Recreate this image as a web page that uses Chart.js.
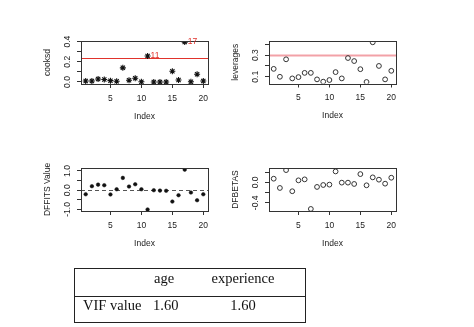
<!DOCTYPE html>
<html>
<head>
<meta charset="utf-8">
<script src="https://cdn.jsdelivr.net/npm/chart.js@4.4.1/dist/chart.umd.min.js"></script>
<style>
html, body { margin: 0; padding: 0; background: #fff; }
#wrap { position: relative; width: 474px; height: 327px; overflow: hidden; }
#wrap canvas { position: absolute; left: 0; top: 0; }
#vif { position: absolute; left: 74px; top: 268px; width: 232px; height: 55px;
       box-sizing: border-box; border: 1px solid #222;
       font-family: "Liberation Serif", serif; font-size: 14.5px; line-height: 1; color: #111; }
#vif .rule { position: absolute; left: 0; right: 0; top: 27px; border-top: 1px solid #222; }
#vif span { position: absolute; white-space: nowrap; }
</style>
</head>
<body>
<div id="wrap">
  <canvas id="cooks" width="474" height="327"></canvas>
  <canvas id="lev" width="474" height="327"></canvas>
  <canvas id="dffits" width="474" height="327"></canvas>
  <canvas id="dfbetas" width="474" height="327"></canvas>
  <div id="vif"><div class="rule"></div></div>
</div>
<script>
const index = [1, 2, 3, 4, 5, 6, 7, 8, 9, 10, 11, 12, 13, 14, 15, 16, 17, 18, 19, 20];
const cooksd = [0.010, 0.010, 0.030, 0.024, 0.013, 0.007, 0.140, 0.017, 0.037, 0.002,
                0.257, 0.000, 0.000, 0.000, 0.107, 0.020, 0.395, 0.002, 0.077, 0.010];
const leverages = [0.173, 0.100, 0.261, 0.085, 0.097, 0.136, 0.136, 0.076, 0.055, 0.070,
                   0.143, 0.085, 0.273, 0.245, 0.170, 0.052, 0.418, 0.200, 0.076, 0.155];
const dffitsVals = [-0.21, 0.21, 0.29, 0.26, -0.22, 0.05, 0.64, 0.19, 0.31, 0.05,
                    -1.00, 0.00, -0.02, -0.03, -0.59, -0.26, 1.07, -0.12, -0.52, -0.21];
const dfbetasVals = [0.071, -0.110, 0.239, -0.174, 0.039, 0.058, -0.520, -0.090, -0.052, -0.045,
                     0.213, -0.006, -0.006, -0.032, 0.161, -0.058, 0.097, 0.052, -0.026, 0.090];

const cooksCut = 0.235;
const leverageCut = 0.3;
const flagged = [11, 17];

const xTicks = [5, 10, 15, 20];
const cooksTicks = [0, 0.1, 0.2, 0.3, 0.4];
const cooksTickLabels = ['0.0', '', '0.2', '', '0.4'];
const levTicks = [0.1, 0.2, 0.3, 0.4];
const levTickLabels = ['0.1', '', '0.3', ''];
const dffitsTicks = [-1, -0.5, 0, 0.5, 1];
const dffitsTickLabels = ['-1.0', '', '0.0', '', '1.0'];
const dfbetasTicks = [-0.4, -0.2, 0, 0.2];
const dfbetasTickLabels = ['-0.4', '', '0.0', ''];

// VIF table
const vifHeader = ['age', 'experience'];
const vifRowName = 'VIF value';
const vifValues = ['1.60', '1.60'];

const FONT = '"Liberation Sans", Arial, sans-serif';
const FS = 8.5;
const Y_W = 40, X_H = 37.6;

const rplot = {
  id: 'rplot',
  beforeDatasetsDraw(chart, args, o) {
    const {ctx, chartArea: a} = chart;
    const y = chart.scales.y;
    if (o.hline != null) {
      ctx.save();
      ctx.beginPath();
      ctx.rect(a.left, a.top, a.right - a.left, a.bottom - a.top);
      ctx.clip();
      ctx.strokeStyle = o.hlineColor;
      ctx.lineWidth = o.hlineWidth;
      ctx.setLineDash(o.dash || []);
      const py = Math.round(y.getPixelForValue(o.hline)) + 0.5;
      ctx.beginPath();
      ctx.moveTo(a.left, py);
      ctx.lineTo(a.right, py);
      ctx.stroke();
      ctx.restore();
    }
  },
  afterDraw(chart, args, o) {
    const {ctx, chartArea: a} = chart;
    const x = chart.scales.x, y = chart.scales.y;
    ctx.save();
    ctx.strokeStyle = '#333';
    ctx.lineWidth = 1;
    ctx.strokeRect(Math.round(a.left) + 0.5, Math.round(a.top) + 0.5,
                   Math.round(a.right - a.left), Math.round(a.bottom - a.top));
    ctx.fillStyle = '#222';
    ctx.font = FS + 'px ' + FONT;
    ctx.textAlign = 'center';
    ctx.textBaseline = 'middle';
    o.ticks.forEach((v, i) => {
      const lab = o.labels[i];
      if (!lab) return;
      ctx.save();
      ctx.translate(a.left - 13, y.getPixelForValue(v));
      ctx.rotate(-Math.PI / 2);
      ctx.fillText(lab, 0, 0);
      ctx.restore();
    });
    if (o.pointLabels) {
      ctx.fillStyle = '#e0332c';
      ctx.font = '8.5px ' + FONT;
      ctx.textAlign = 'left';
      o.pointLabels.forEach(i => {
        ctx.fillText(String(i), x.getPixelForValue(i) + 3, y.getPixelForValue(o.values[i - 1]));
      });
    }
    ctx.restore();
  }
};

function panel(id, area, values, yMin, yMax, ticks, labels, title, ds, extra) {
  new Chart(document.getElementById(id), {
    type: 'scatter',
    data: {
      datasets: [Object.assign({
        data: index.map((v, i) => ({x: v, y: values[i]}))
      }, ds)]
    },
    options: {
      responsive: false,
      animation: false,
      events: [],
      layout: {
        padding: {left: area.l - Y_W, top: area.t, right: 474 - area.r, bottom: 327 - area.b - X_H}
      },
      plugins: {
        legend: {display: false},
        tooltip: {enabled: false},
        rplot: Object.assign({ticks: ticks, labels: labels, values: values}, extra)
      },
      scales: {
        x: {
          type: 'linear', min: 0.24, max: 20.76,
          afterBuildTicks: s => { s.ticks = xTicks.map(v => ({value: v})); },
          afterFit: s => { s.height = X_H; },
          border: {display: false},
          grid: {drawOnChartArea: false, drawTicks: true, tickLength: 4, color: '#333', lineWidth: 1},
          ticks: {padding: 5.2, color: '#222', font: {family: FONT, size: FS}, maxRotation: 0, autoSkip: false},
          title: {display: true, text: 'Index', color: '#222', font: {family: FONT, size: FS},
                  padding: {top: 0, bottom: 0.3}}
        },
        y: {
          type: 'linear', min: yMin, max: yMax,
          afterBuildTicks: s => { s.ticks = ticks.map(v => ({value: v})); },
          afterFit: s => { s.width = Y_W; },
          border: {display: false},
          grid: {drawOnChartArea: false, drawTicks: true, tickLength: 4, color: '#333', lineWidth: 1},
          ticks: {display: false},
          title: {display: true, text: title, color: '#222', font: {family: FONT, size: FS},
                  padding: {top: 1.6, bottom: 0}}
        }
      }
    },
    plugins: [rplot]
  });
}

const star = {pointStyle: 'star', pointRadius: 3, borderColor: '#111', borderWidth: 1.1, backgroundColor: '#111'};
const openCircle = {pointStyle: 'circle', pointRadius: 2.4, borderColor: '#333', borderWidth: 1, backgroundColor: 'rgba(0,0,0,0)'};
const dot = {pointStyle: 'circle', pointRadius: 1.8, borderColor: '#111', borderWidth: 0.5, backgroundColor: '#111'};

panel('cooks', {l: 81, r: 208, t: 41, b: 84}, cooksd, -0.02, 0.406,
      cooksTicks, cooksTickLabels, 'cooksd', star,
      {hline: cooksCut, hlineColor: '#e0332c', hlineWidth: 1, pointLabels: flagged});
panel('lev', {l: 269, r: 396, t: 41, b: 83.5}, leverages, 0.038, 0.43,
      levTicks, levTickLabels, 'leverages', openCircle,
      {hline: leverageCut, hlineColor: 'rgba(235,110,120,0.65)', hlineWidth: 2});
panel('dffits', {l: 81, r: 208, t: 168, b: 211}, dffitsVals, -1.08, 1.155,
      dffitsTicks, dffitsTickLabels, 'DFFITS Value', dot,
      {hline: 0, hlineColor: '#555', hlineWidth: 1, dash: [4, 3]});
panel('dfbetas', {l: 269, r: 396, t: 168, b: 211}, dfbetasVals, -0.56, 0.28,
      dfbetasTicks, dfbetasTickLabels, 'DFBETAS', openCircle, {});

// table text
const vif = document.getElementById('vif');
function put(text, left, top, align) {
  const s = document.createElement('span');
  s.textContent = text;
  s.style.top = top + 'px';
  s.style.left = left + 'px';
  if (align === 'center') s.style.transform = 'translateX(-50%)';
  vif.appendChild(s);
}
put(vifHeader[0], 154 - 75, 271 - 269, 'left');
put(vifHeader[1], 243 - 75, 271 - 269, 'center');
put(vifRowName, 83 - 75, 298 - 269, 'left');
put(vifValues[0], 153 - 75, 298 - 269, 'left');
put(vifValues[1], 243 - 75, 298 - 269, 'center');
</script>
</body>
</html>
